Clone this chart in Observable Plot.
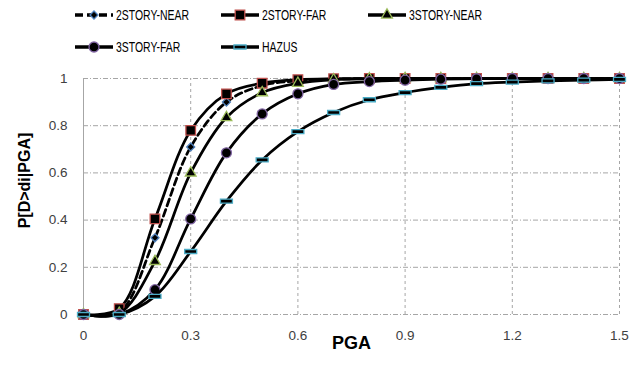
<!DOCTYPE html>
<html><head><meta charset="utf-8">
<script src="https://cdn.jsdelivr.net/npm/d3@7"></script>
<script src="https://cdn.jsdelivr.net/npm/@observablehq/plot@0.6"></script>
<style>
body{margin:0;background:#fff;}
#wrap{position:relative;width:644px;height:373px;font-family:"Liberation Sans",Arial,sans-serif;}
#legend svg, #chart svg{display:block;}
</style></head><body>
<div id="wrap"><div id="legend"></div><div id="chart"></div></div>
<script>
const pga = [0, 0.1, 0.2, 0.3, 0.4, 0.5, 0.6, 0.7, 0.8, 0.9, 1.0, 1.1, 1.2, 1.3, 1.4, 1.5];
const story2Near = [0, 0.01, 0.325, 0.71, 0.90, 0.97, 0.99, 0.997, 1, 1, 1, 1, 1, 1, 1, 1];
const story2Far  = [0, 0.025, 0.405, 0.78, 0.935, 0.98, 0.995, 0.999, 1, 1, 1, 1, 1, 1, 1, 1];
const story3Near = [0, 0.005, 0.225, 0.60, 0.835, 0.94, 0.98, 0.995, 0.999, 1, 1, 1, 1, 1, 1, 1];
const story3Far  = [0, 0.0, 0.105, 0.405, 0.685, 0.85, 0.935, 0.975, 0.987, 0.993, 0.997, 0.999, 1, 1, 1, 1];
const hazus      = [0, 0.0, 0.077, 0.267, 0.48, 0.655, 0.775, 0.856, 0.91, 0.94, 0.962, 0.978, 0.985, 0.99, 0.993, 0.996];
const seriesNames = ["2STORY-NEAR", "2STORY-FAR", "3STORY-NEAR", "3STORY-FAR", "HAZUS"];
const xTicks = [0, 0.3, 0.6, 0.9, 1.2, 1.5];
const yTicks = [0, 0.2, 0.4, 0.6, 0.8, 1];

const dashSymbol = {draw(ctx, size) { ctx.moveTo(-6, -2); ctx.lineTo(6, -2); ctx.lineTo(6, 2); ctx.lineTo(-6, 2); ctx.closePath(); }};
const styles = {
  "2STORY-NEAR": {symbol: "diamond2", r: 3.6, stroke: "#4f81bd", dash: "7,4"},
  "2STORY-FAR":  {symbol: "square", r: 5.4, stroke: "#c0504d", dash: null},
  "3STORY-NEAR": {symbol: "triangle", r: 4.0, stroke: "#9bbb59", dash: null},
  "3STORY-FAR":  {symbol: "circle", r: 5.0, stroke: "#8064a2", dash: null},
  "HAZUS":       {symbol: dashSymbol, r: 4, stroke: "#4bacc6", dash: null}
};
const valuesBySeries = [story2Near, story2Far, story3Near, story3Far, hazus];
const rows = seriesNames.map((name, i) => pga.map((x, j) => ({series: name, pga: x, p: valuesBySeries[i][j]})));

// legend (separate SVG above the plot)
const legendPos = [[75, 15], [221, 15], [368, 15], [75, 47], [221, 47]];
const lsvg = d3.create("svg").attr("width", 644).attr("height", 64);
document.getElementById("legend").appendChild(lsvg.node());
const symMap = {diamond2: d3.symbolDiamond2, square: d3.symbolSquare, triangle: d3.symbolTriangle, circle: d3.symbolCircle};
seriesNames.forEach((name, i) => {
  const st = styles[name];
  const g = lsvg.append("g").attr("transform", `translate(${legendPos[i][0]},${legendPos[i][1]})`);
  g.append("line").attr("x1", 0).attr("x2", 38).attr("y1", 0).attr("y2", 0)
    .attr("stroke", "#000").attr("stroke-width", 3.5).attr("stroke-dasharray", st.dash ? "8,4" : null);
  const sym = typeof st.symbol === "string" ? symMap[st.symbol] : st.symbol;
  g.append("path").attr("transform", "translate(19,0)")
    .attr("d", d3.symbol(sym, st.r * st.r * Math.PI)())
    .attr("fill", "#000").attr("stroke", st.stroke).attr("stroke-width", 1.3);
  const t = g.append("text").attr("x", 41).attr("y", 0).attr("dy", "0.36em")
    .attr("font-family", "'Liberation Sans', Arial, sans-serif").attr("font-size", 14.5).attr("fill", "#000").text(name);
  const w = t.node().getComputedTextLength();
  t.attr("textLength", w * 0.72).attr("lengthAdjust", "spacingAndGlyphs");
});

const marks = [
  Plot.ruleY(yTicks.slice(1), {x1: 0, x2: 1.5, stroke: "#a6a6a6", strokeWidth: 1, strokeDasharray: "5,2,1,2"}),
  Plot.ruleY([0], {x1: 0, x2: 1.5, stroke: "#a6a6a6", strokeWidth: 1, strokeDasharray: "5,2,1,2"}),
  Plot.ruleX(xTicks.slice(1), {y1: 0, y2: 1, stroke: "#a6a6a6", strokeWidth: 1, strokeDasharray: "3,3"}),
  Plot.ruleX([0], {y1: 0, y2: 1, stroke: "#a6a6a6", strokeWidth: 1})
];
seriesNames.forEach((name, i) => {
  const st = styles[name];
  marks.push(Plot.line(rows[i], {x: "pga", y: "p", stroke: "#000", strokeWidth: 2.75, curve: "catmull-rom", strokeDasharray: st.dash}));
  marks.push(Plot.dot(rows[i], {x: "pga", y: "p", symbol: () => st.symbol, r: st.r, fill: "#000", stroke: st.stroke, strokeWidth: 1.3}));
});
marks.push(Plot.text(["P[D>di|PGA]"], {text: d => d, frameAnchor: "left", textAnchor: "middle", dx: -59, dy: -16, rotate: -90, fontWeight: "bold", fontSize: 16, fill: "#000"}));
marks.push(Plot.text(["PGA"], {text: d => d, frameAnchor: "bottom", textAnchor: "middle", dy: 34, fontWeight: "bold", fontSize: 18, fill: "#000"}));

const chart = Plot.plot({
  width: 644,
  height: 309,
  marginTop: 14,
  marginBottom: 59,
  marginLeft: 83,
  marginRight: 25,
  style: {fontFamily: "'Liberation Sans', Arial, sans-serif", fontSize: "13.5px", color: "#404040", background: "#fff"},
  x: {domain: [0, 1.5], ticks: xTicks, tickFormat: d => String(d), tickSize: 0, tickPadding: 16, label: null},
  y: {domain: [0, 1], ticks: yTicks, tickFormat: d => String(d), tickSize: 0, tickPadding: 16, label: null},
  symbol: {type: "identity"},
  marks
});
document.getElementById("chart").appendChild(chart);
</script>
</body></html>
